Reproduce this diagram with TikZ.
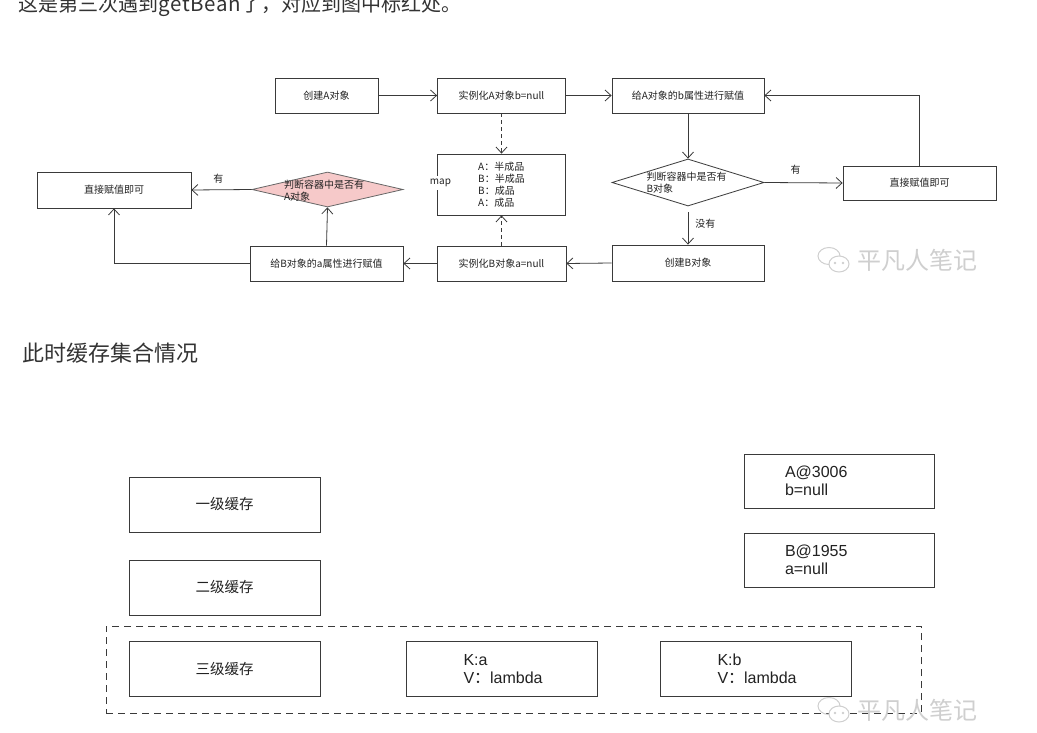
\documentclass[tikz,border=0pt]{standalone}
\usepackage{fontspec}
\setmainfont{Noto Sans CJK SC}
\newfontfamily\cjkf{Noto Sans CJK SC}
\newfontfamily\latf{Liberation Sans}
\usetikzlibrary{arrows.meta,shapes.geometric}
\definecolor{lc}{HTML}{3A3A3A}
\definecolor{tc}{HTML}{222222}
\definecolor{tc2}{HTML}{333333}
\definecolor{pinkf}{HTML}{F6C9C9}
\definecolor{wmc}{HTML}{CFCFCF}
\begin{document}
\begin{tikzpicture}[x=1pt,y=-1pt,
  fbox/.style={draw=lc,line width=0.8pt,inner sep=0pt,text=tc,font=\fontsize{10}{12}\selectfont},
  fdia/.style={shape=diamond,draw=lc,line width=0.8pt,inner sep=0pt},
  ftxt/.style={inner sep=0pt,text=tc,font=\fontsize{10}{12}\selectfont},
  arr/.style={draw=lc,line width=0.8pt,-{Straight Barb[length=6pt,width=11pt]}},
  darr/.style={arr,dash pattern=on 4pt off 3pt},
  bbox/.style={draw=lc,line width=1pt,inner sep=0pt,text=tc,font=\fontsize{14.5}{17}\selectfont,minimum width=191,minimum height=55},
  kbox/.style={draw=lc,line width=1pt,inner ysep=0pt,text=tc,font=\latf\fontsize{16}{18}\selectfont,align=left,minimum height=55},
  wm/.style={draw=wmc,line width=1pt},
  wmt/.style={text=wmc,inner sep=0pt,font=\fontsize{24}{28}\selectfont}
]
\fill[white] (0,0) rectangle (1037,733);
\useasboundingbox (0,0) rectangle (1037,733);

% headings
\node[anchor=base west,inner sep=0pt,text=tc2,font=\fontsize{20}{24}\selectfont] (intro) at (18,12) {这是第三次遇到{\fontsize{20.5}{24}\selectfont g\kern0.6pt e\kern0.6pt t\kern0.6pt B\kern0.6pt e\kern0.6pt a\kern0.6pt n}了，对应到图中标红处。};
\node[anchor=base west,inner sep=0pt,text=tc2,font=\fontsize{22}{26}\selectfont] (cachehead) at (22,361) {此时缓存集合情况};

% ---------- flowchart ----------
\node[fbox,minimum width=103,minimum height=35] (cA) at (326.5,95.5) {创建A对象};
\node[fbox,minimum width=128,minimum height=35] (iA) at (501.5,95.5) {实例化A对象b=null};
\node[fbox,minimum width=152,minimum height=35] (gA) at (688,95.5) {给A对象的b属性进行赋值};
\node[fbox,minimum width=128,minimum height=61,align=left] (map) at (501.5,184.5) {A：半成品\\B：半成品\\B：成品\\A：成品};
\node[ftxt,fill=white,inner xsep=1pt,inner ysep=3pt] (maplbl) at (440.5,183) {map};

\node[fdia,minimum width=152,minimum height=47] (dB) at (688,182.5) {};
\node[ftxt,align=left] (dBt) at (686.5,183) {判断容器中是否有\\B对象};
\node[fbox,minimum width=153,minimum height=34] (zR) at (919.5,183) {直接赋值即可};
\node[fbox,minimum width=152,minimum height=36] (cB) at (688,263) {创建B对象};
\node[fbox,minimum width=129,minimum height=35] (iB) at (501.5,263.5) {实例化B对象a=null};
\node[fbox,minimum width=153,minimum height=35] (gB) at (326.5,263.5) {给B对象的a属性进行赋值};
\node[fdia,fill=pinkf,draw=gray!80!black,minimum width=151,minimum height=35] (dA) at (327.5,189.5) {};
\node[ftxt,align=left] (dAt) at (324,191) {判断容器中是否有\\A对象};
\node[fbox,minimum width=154,minimum height=36] (zL) at (114,190) {直接赋值即可};

\draw[arr] (cA.east) -- (iA.west);
\draw[arr] (iA.east) -- (gA.west);
\draw[darr] (iA.south) -- (map.north);
\draw[arr] (gA.south) -- (dB.north);
\draw[arr] (dB.east) -- node[ftxt,above=8pt,pos=0.4] (lyes1) {有} (zR.west);
\draw[arr] (zR.north) |- (gA.east);
\draw[arr,shorten <=6pt] (dB.south) -- node[ftxt,right=7pt,pos=0.45] (lno) {没有} (cB.north);
\draw[arr] (cB.west) -- (iB.east);
\draw[darr] (iB.north) -- (map.south);
\draw[arr] (iB.west) -- (gB.east);
\draw[arr] (gB.north) -- (dA.south);
\draw[arr] (dA.west) -- node[ftxt,above=6pt,pos=0.55] (lyes2) {有} (zL.east);
\draw[arr] (gB.west) -| (zL.south);

% watermark 1
\draw[wm] (829,256) ellipse [x radius=11, y radius=8.5];
\draw[wm,fill=white] (839,264) ellipse [x radius=10, y radius=8];
\fill[wmc] (835,263) circle (1.3) (843,263) circle (1.3);
\node[wmt,anchor=west] (wm1) at (857,260) {平凡人笔记};

% ---------- cache section ----------
\node[bbox] (l1) at (224.5,504.5) {一级缓存};
\node[bbox] (l2) at (224.5,587.5) {二级缓存};
\node[draw=lc,line width=1pt,dash pattern=on 7pt off 5pt,minimum width=815,minimum height=87,inner sep=0pt] (third) at (513.5,669.5) {};
\node[bbox] (l3) at (224.5,669) {三级缓存};
\node[kbox,inner xsep=57pt,text width=77pt] (ka) at (502,669) {K:a\\V{\cjkf ：}lambda};
\node[kbox,inner xsep=57pt,text width=77pt] (kb) at (756,669) {K:b\\V{\cjkf ：}lambda};
\node[kbox,inner xsep=41pt,text width=108pt,minimum height=54] (objA) at (839,481) {A@3006\\b=null};
\node[kbox,inner xsep=41pt,text width=108pt,minimum height=54] (objB) at (839,560) {B@1955\\a=null};

% watermark 2
\draw[wm] (829,706) ellipse [x radius=11, y radius=8.5];
\draw[wm,fill=white] (839,714) ellipse [x radius=10, y radius=8];
\fill[wmc] (835,713) circle (1.3) (843,713) circle (1.3);
\node[wmt,anchor=west] (wm2) at (857,710) {平凡人笔记};
\end{tikzpicture}
\end{document}
